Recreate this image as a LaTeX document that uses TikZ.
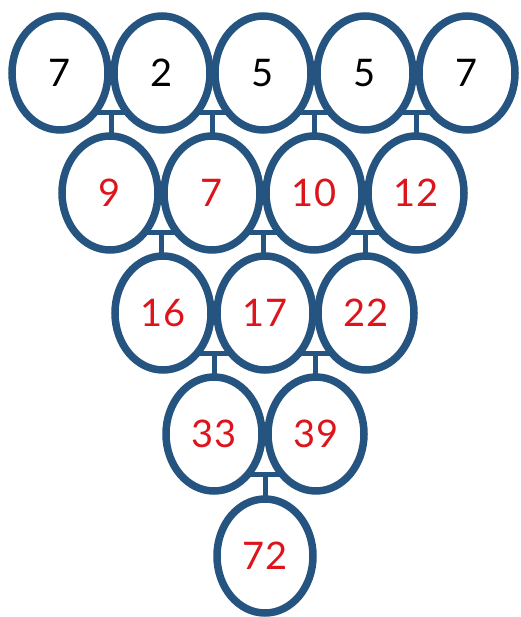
\documentclass[tikz,border=0pt]{standalone}
\usepackage{fontspec}
\setmainfont{Lato}
\usetikzlibrary{shapes.geometric,calc}
\definecolor{ringblue}{RGB}{38,84,128}
\definecolor{numred}{RGB}{222,20,28}
\tikzset{
  ring/.style={ellipse, draw=ringblue, line width=7.5pt, fill=white,
    minimum width=96pt, minimum height=114pt, inner sep=0pt,
    font=\fontsize{38}{38}\selectfont},
  given/.style={ring, text=black},
  sumv/.style={ring, text=numred},
  bar/.style={draw=ringblue, line width=5pt}
}
\newcommand{\joinpair}[3]{%
  \draw[bar] ($(#1.center)+(0,40)$) -- ($(#2.center)+(0,40)$);
  \coordinate (jm) at ($($(#1.center)!0.5!(#2.center)$)+(0,40)$);
  \draw[bar] (jm) -- (jm |- #3.center);
}
\begin{document}
\begin{tikzpicture}[x=1pt,y=-1pt]
\useasboundingbox (0,0) rectangle (520,617);
% positions
\coordinate (p11) at (60,73);
\coordinate (p12) at (162,73);
\coordinate (p13) at (263,73);
\coordinate (p14) at (365,73);
\coordinate (p15) at (467,73);
\coordinate (p21) at (110,193);
\coordinate (p22) at (212,193);
\coordinate (p23) at (314,193);
\coordinate (p24) at (416,193);
\coordinate (p31) at (163,313);
\coordinate (p32) at (265,313);
\coordinate (p33) at (366,313);
\coordinate (p41) at (214,434);
\coordinate (p42) at (316,434);
\coordinate (p51) at (265,556);
% connectors first (behind rings)
\foreach \n in {11,12,13,14,15,21,22,23,24,31,32,33,41,42,51}
  \node[ring, draw=none, fill=none] (n\n) at (p\n) {};
\joinpair{n11}{n12}{n21}
\joinpair{n12}{n13}{n22}
\joinpair{n13}{n14}{n23}
\joinpair{n14}{n15}{n24}
\joinpair{n21}{n22}{n31}
\joinpair{n22}{n23}{n32}
\joinpair{n23}{n24}{n33}
\joinpair{n31}{n32}{n41}
\joinpair{n32}{n33}{n42}
\joinpair{n41}{n42}{n51}
% rings
\node[given] (a11) at (p11) {7};
\node[given] (a12) at (p12) {2};
\node[given] (a13) at (p13) {5};
\node[given] (a14) at (p14) {5};
\node[given] (a15) at (p15) {7};
\node[sumv] (a21) at (p21) {9};
\node[sumv] (a22) at (p22) {7};
\node[sumv] (a23) at (p23) {10};
\node[sumv] (a24) at (p24) {12};
\node[sumv] (a31) at (p31) {16};
\node[sumv] (a32) at (p32) {17};
\node[sumv] (a33) at (p33) {22};
\node[sumv] (a41) at (p41) {33};
\node[sumv] (a42) at (p42) {39};
\node[sumv] (a51) at (p51) {72};
\end{tikzpicture}
\end{document}
